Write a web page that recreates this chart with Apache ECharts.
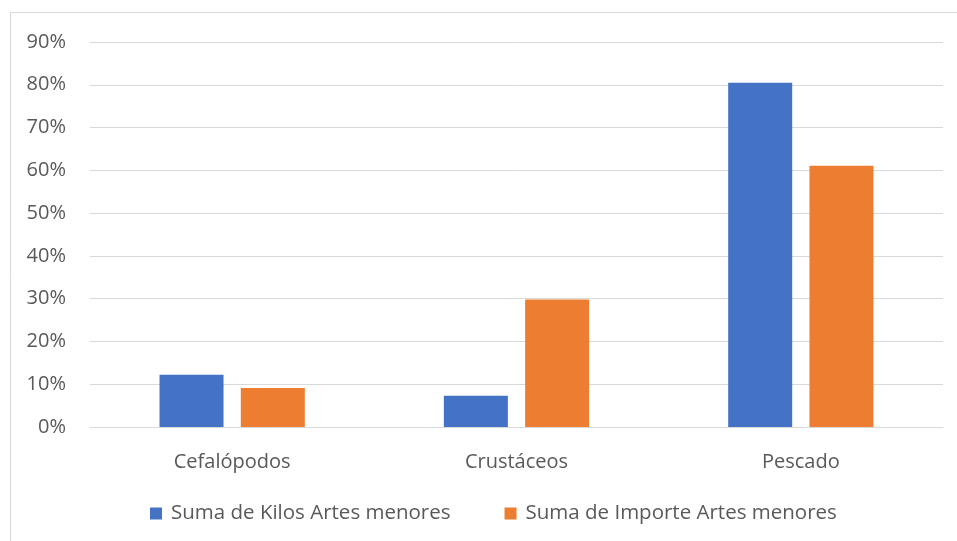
<!DOCTYPE html>
<html><head><meta charset="utf-8">
<script src="https://cdn.jsdelivr.net/npm/echarts@6/dist/echarts.min.js"></script>
<style>html,body{margin:0;padding:0;background:#fff}#c{width:957px;height:541px}</style>
</head><body><div id="c"></div>
<script>
const categories = ['Cefalópodos', 'Crustáceos', 'Pescado'];
const kilos = [12.2, 7.3, 80.5];
const importe = [9.1, 29.8, 61.1];
const seriesNames = ['Suma de Kilos Artes menores', 'Suma de Importe Artes menores'];
const yTicks = [0, 10, 20, 30, 40, 50, 60, 70, 80, 90];

const font = '"Open Sans", "Noto Sans", sans-serif';
const chart = echarts.init(document.getElementById('c'), null, {renderer: 'canvas'});
chart.setOption({
  animation: false,
  backgroundColor: '#fff',
  graphic: [{type: 'rect', shape: {x: 10.5, y: 12.5, width: 1000, height: 600}, style: {fill: 'none', stroke: '#d9d9d9', lineWidth: 1}, silent: true}],
  grid: {left: 90, right: 14, top: 42, bottom: 114, containLabel: false},
  legend: {
    bottom: 12, left: 145, itemWidth: 12, itemHeight: 12, itemGap: 54,
    icon: 'rect',
    textStyle: {fontFamily: font, fontSize: 20.5, color: '#595959', padding: [0, 0, 0, 4]},
    data: seriesNames
  },
  xAxis: {
    type: 'category', data: categories,
    axisLine: {lineStyle: {color: '#d9d9d9'}},
    axisTick: {show: false},
    axisLabel: {fontFamily: font, fontSize: 20, color: '#595959', margin: 25}
  },
  yAxis: {
    type: 'value', min: yTicks[0], max: yTicks[yTicks.length - 1], interval: 10,
    axisLine: {show: false}, axisTick: {show: false},
    splitLine: {lineStyle: {color: '#d9d9d9', width: 1}},
    axisLabel: {fontFamily: font, fontSize: 20, color: '#595959', margin: 24, formatter: v => v + '%'}
  },
  series: [
    {name: seriesNames[0], type: 'bar', data: kilos, barWidth: 64, barGap: '27%', itemStyle: {color: '#4472C4'}},
    {name: seriesNames[1], type: 'bar', data: importe, barWidth: 64, barGap: '27%', itemStyle: {color: '#ED7D31'}}
  ]
});
</script></body></html>
